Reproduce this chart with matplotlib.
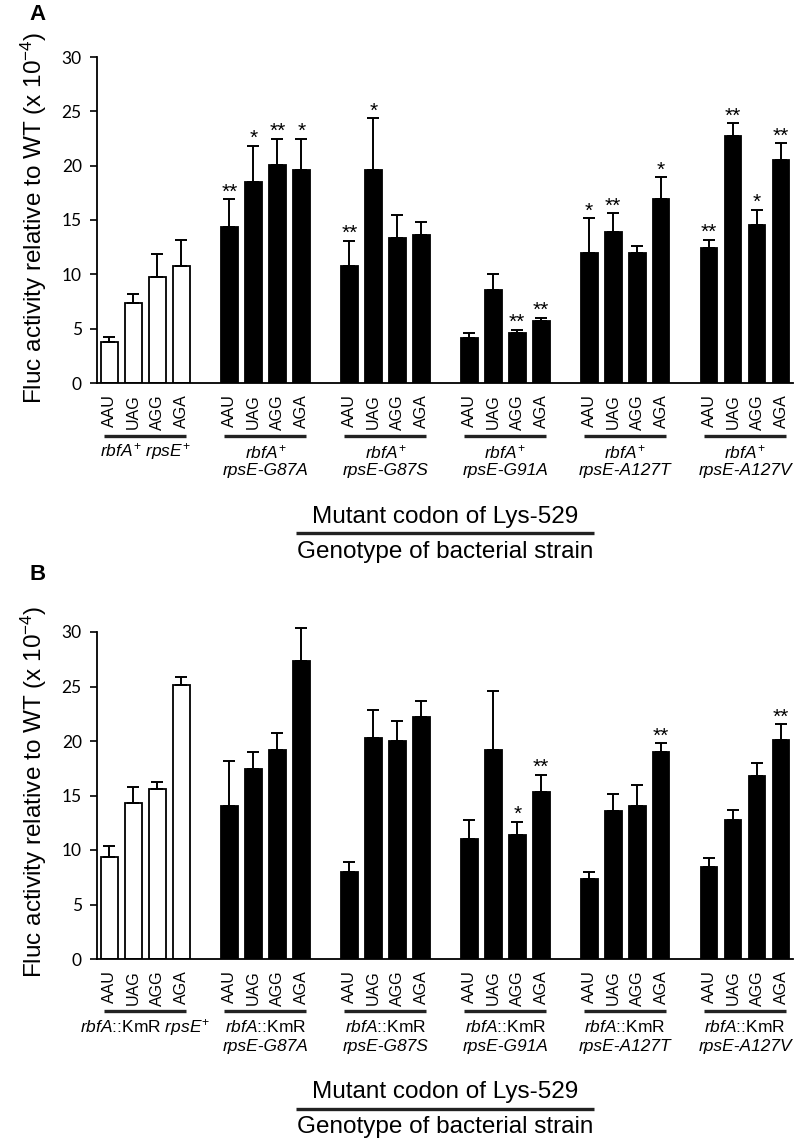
import matplotlib
matplotlib.use("Agg")
import matplotlib.pyplot as plt
import matplotlib.transforms as mtransforms
from matplotlib.lines import Line2D
import numpy as np

plt.rcParams['font.family'] = ['Liberation Sans', 'DejaVu Sans']
plt.rcParams['mathtext.fontset'] = 'custom'
plt.rcParams['mathtext.rm'] = 'Liberation Sans'
plt.rcParams['mathtext.it'] = 'Liberation Sans:italic'
plt.rcParams['mathtext.bf'] = 'Liberation Sans:bold'

# ---------------- data ----------------
codons = ["AAU", "UAG", "AGG", "AGA"]

A_line1 = [r"$\mathit{rbfA}^{+}$ $\mathit{rpsE}^{+}$", r"$\mathit{rbfA}^{+}$", r"$\mathit{rbfA}^{+}$",
           r"$\mathit{rbfA}^{+}$", r"$\mathit{rbfA}^{+}$", r"$\mathit{rbfA}^{+}$"]
A_line2 = ["", "rpsE-G87A", "rpsE-G87S", "rpsE-G91A", "rpsE-A127T", "rpsE-A127V"]

A_values = [[3.8, 7.4, 9.8, 10.8],
            [14.4, 18.5, 20.1, 19.6],
            [10.8, 19.6, 13.3, 13.6],
            [4.1, 8.6, 4.6, 5.7],
            [12.0, 13.9, 12.0, 16.9],
            [12.4, 22.7, 14.5, 20.5]]
A_err = [[0.46, 0.8, 2.05, 2.33],
         [2.51, 3.34, 2.38, 2.87],
         [2.3, 4.77, 2.15, 1.21],
         [0.49, 1.41, 0.3, 0.3],
         [3.16, 1.74, 0.62, 2.03],
         [0.77, 1.23, 1.45, 1.56]]
A_sig = [["", "", "", ""],
         ["**", "*", "**", "*"],
         ["**", "*", "", ""],
         ["", "", "**", "**"],
         ["*", "**", "", "*"],
         ["**", "**", "*", "**"]]

B_line1 = [r"$\mathit{rbfA}$::KmR $\mathit{rpsE}^{+}$", r"$\mathit{rbfA}$::KmR", r"$\mathit{rbfA}$::KmR",
           r"$\mathit{rbfA}$::KmR", r"$\mathit{rbfA}$::KmR", r"$\mathit{rbfA}$::KmR"]
B_line2 = ["", "rpsE-G87A", "rpsE-G87S", "rpsE-G91A", "rpsE-A127T", "rpsE-A127V"]

B_values = [[9.35, 14.34, 15.63, 25.13],
            [14.07, 17.41, 19.18, 27.37],
            [7.97, 20.29, 19.98, 22.22],
            [11.03, 19.15, 11.34, 15.35],
            [7.36, 13.58, 14.07, 19.0],
            [8.46, 12.78, 16.76, 20.13]]
B_err = [[1.01, 1.44, 0.64, 0.74],
         [4.1, 1.59, 1.57, 2.97],
         [0.92, 2.54, 1.87, 1.41],
         [1.75, 5.45, 1.26, 1.57],
         [0.61, 1.59, 1.87, 0.8],
         [0.8, 0.92, 1.26, 1.41]]
B_sig = [["", "", "", ""],
         ["", "", "", ""],
         ["", "", "", ""],
         ["", "", "*", "**"],
         ["", "", "", "**"],
         ["", "", "", "**"]]

y_ticks = [0, 5, 10, 15, 20, 25, 30]
ylabel = r"Fluc activity relative to WT (x 10$^{-4}$)"
axis_title_top = "Mutant codon of Lys-529"
axis_title_bottom = "Genotype of bacterial strain"

# ---------------- figure ----------------
W, H = 800, 1142
fig = plt.figure(figsize=(W / 100, H / 100), dpi=100)


def fy(py):
    return 1 - py / H


def panel(ax_rect, values, errs, sigs, line1, line2, letter, letter_y,
          ylabel_y, gline_y, l1_y, l2_y, mt_y, mline_y, gt_y):
    ax = fig.add_axes(ax_rect)
    ngroups = len(values)
    xs, vals, es, fills, sg = [], [], [], [], []
    for g in range(ngroups):
        for i in range(4):
            xs.append(g * 5 + i)
            vals.append(values[g][i])
            es.append(errs[g][i])
            sg.append(sigs[g][i])
            fills.append('white' if g == 0 else 'black')
    xs = np.array(xs, dtype=float)
    vals = np.array(vals)
    es = np.array(es)
    ax.bar(xs, vals, width=0.7, color=fills, edgecolor='black', linewidth=1.3, zorder=2)
    eb = ax.errorbar(xs, vals, yerr=[np.zeros_like(es), es], fmt='none', ecolor='black',
                     elinewidth=1.4, capsize=4.3, capthick=1.4, zorder=3)
    for art in eb.lines[1] + eb.lines[2]:
        art.set_clip_on(False)
    for x, v, e, s in zip(xs, vals, es, sg):
        if s:
            ax.text(x, v + e + 0.15, s, ha='center', va='baseline', fontsize=15,
                    family='Liberation Sans', zorder=4)
    ax.set_xlim(-0.52, 28.5)
    ax.set_ylim(0, 30)
    ax.set_yticks(y_ticks)
    ax.set_yticklabels([str(t) for t in y_ticks], family='Lato', fontsize=12.5)
    ax.tick_params(axis='y', length=5, width=1.2, pad=6, direction='out')
    ax.set_xticks(xs)
    ax.set_xticklabels(codons * ngroups, rotation=90, fontsize=11.5, va='top', ha='center')
    ax.tick_params(axis='x', length=0, pad=8)
    for sp in ['top', 'right']:
        ax.spines[sp].set_visible(False)
    ax.spines['left'].set_linewidth(1.3)
    ax.spines['bottom'].set_linewidth(1.3)

    trans = mtransforms.blended_transform_factory(ax.transData, fig.transFigure)
    for g in range(ngroups):
        x0 = g * 5 - 0.23
        x1 = g * 5 + 3.2
        ln = Line2D([x0, x1], [fy(gline_y), fy(gline_y)], transform=trans, color='#222222',
                    linewidth=2.4, solid_capstyle='butt')
        fig.add_artist(ln)
        cx = g * 5 + 1.5
        fig.text(cx, fy(l1_y), line1[g], transform=trans, ha='center', va='center', fontsize=12.5)
        if line2[g]:
            fig.text(cx, fy(l2_y), line2[g], transform=trans, ha='center', va='center',
                     fontsize=12.5, style='italic')

    fig.text(445 / W, fy(mt_y), axis_title_top, ha='center', va='center', fontsize=17.5)
    fig.add_artist(Line2D([296 / W, 594 / W], [fy(mline_y), fy(mline_y)], color='#222222',
                          linewidth=2.4, transform=fig.transFigure, solid_capstyle='butt'))
    fig.text(445 / W, fy(gt_y), axis_title_bottom, ha='center', va='center', fontsize=17.5)

    fig.text(38 / W, fy(letter_y), letter, ha='center', va='center', fontsize=16, fontweight='bold')
    fig.text(34 / W, fy(ylabel_y), ylabel, ha='center', va='center', rotation=90, fontsize=17.5)
    return ax


panel([97 / W, fy(383), 696 / W, (383 - 57) / H], A_values, A_err, A_sig, A_line1, A_line2,
      "A", 15, 218, 436, 452, 471, 517, 533, 552)
panel([97 / W, fy(959), 696 / W, (959 - 632) / H], B_values, B_err, B_sig, B_line1, B_line2,
      "B", 575, 792, 1011, 1027, 1047, 1092, 1109, 1127)

fig.savefig("out.png", dpi=100)
